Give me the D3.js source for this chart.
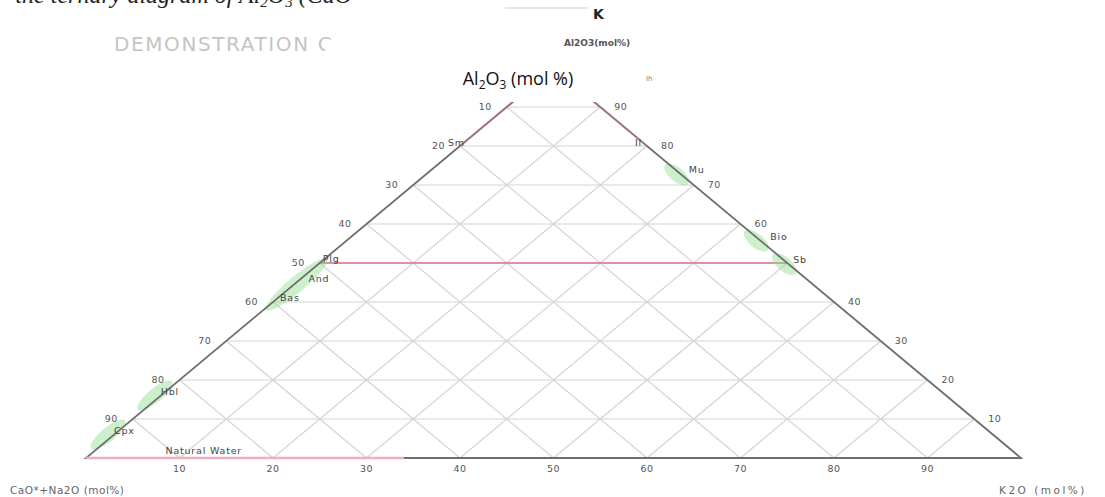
<!DOCTYPE html>
<html>
  <head>
    <meta charset="utf-8" />
    <script src="https://d3js.org/d3.v7.min.js"></script>
    <title>Ternary A-CN-K</title>
    <style>
      body { margin: 0; background: #fff; }
      svg text { font-family: "DejaVu Sans", sans-serif; }
      .grid { stroke: #d4d4d4; stroke-width: 1.2px; fill: none; }
      .edge { stroke: #6e6e6e; stroke-width: 1.8px; fill: none; }
      .tick { font-size: 9.5px; fill: #555; letter-spacing: 0.5px; }
      .mineral { font-size: 9.5px; fill: #444; letter-spacing: 0.8px; }
      .blob { fill: #8fdc8f; opacity: 0.45; }
      .join { stroke: #e0708a; stroke-width: 1.4px; fill: none; }
    </style>
  </head>
  <body>

    <svg id="chart" width="1105" height="497"></svg>

    <script>

      // tick values on every side
      var ticks = [10, 20, 30, 40, 50, 60, 70, 80, 90];

      // minerals on the left (CaO*+Na2O) side: Al2O3 %
      var leftNames = ["Plg", "And", "Bas", "Hbl", "Cpx"];
      var leftA = [50, 45, 40, 16, 6];

      // minerals on the right (K2O) side: Al2O3 %
      var rightNames = ["Mu", "Bio", "Sb"];
      var rightA = [73, 56, 50];

      // minerals near the top
      var topNames = ["Sm", "Il"];
      var topA = [80, 80];
      var topK = [0, 20];

      // natural water stays on the CN-K join, K2O from 0 to this value
      var waterK = [0, 34];

      var svg = d3.select("#chart");

      var xScale = d3.scaleLinear().domain([0, 100]).range([86, 1021]);
      var yScale = d3.scaleLinear().domain([0, 100]).range([458, 68]);

      // a = Al2O3, k = K2O ; CaO+Na2O is the rest
      function pt(a, k) {
        return [xScale(k + a / 2), yScale(a)];
      }

      var edgeAngle = Math.atan2(yScale(0) - yScale(100), xScale(50) - xScale(0)) * 180 / Math.PI;

      // cropped document text at the top
      svg.append("text")
        .attr("x", 352)
        .attr("y", 3)
        .attr("text-anchor", "end")
        .style("font-family", "'Liberation Serif', serif")
        .style("font-style", "italic")
        .style("font-size", "24px")
        .attr("fill", "#222")
        .html("the ternary diagram of Al<tspan font-size='15' dy='4'>2</tspan><tspan dy='-4'>O</tspan><tspan font-size='15' dy='4'>3</tspan><tspan dy='-4'> (CaO</tspan>");

      svg.append("line")
        .attr("x1", 505).attr("x2", 588)
        .attr("y1", 8).attr("y2", 8)
        .attr("stroke", "#ccc");

      svg.append("text")
        .attr("x", 593)
        .attr("y", 19)
        .style("font-size", "14px")
        .style("font-weight", "bold")
        .attr("fill", "#222")
        .text("K");

      svg.append("text")
        .attr("x", 114)
        .attr("y", 51)
        .style("font-size", "20px")
        .style("letter-spacing", "1.6px")
        .attr("fill", "#c4c4c4")
        .text("DEMONSTRATION C");

      svg.append("text")
        .attr("x", 564)
        .attr("y", 46)
        .style("font-size", "9px")
        .style("font-weight", "bold")
        .attr("fill", "#555")
        .text("Al2O3(mol%)");

      // grid
      var grid = svg.append("g");
      ticks.forEach(function(v) {
        [[pt(v, 0), pt(v, 100 - v)],
         [pt(0, v), pt(100 - v, v)],
         [pt(0, 100 - v), pt(100 - v, 0)]].forEach(function(seg) {
          grid.append("line")
            .attr("class", "grid")
            .attr("x1", seg[0][0]).attr("y1", seg[0][1])
            .attr("x2", seg[1][0]).attr("y2", seg[1][1]);
        });
      });

      // feldspar join
      svg.append("line")
        .attr("class", "join")
        .attr("x1", pt(50, 0)[0]).attr("y1", pt(50, 0)[1])
        .attr("x2", pt(50, 50)[0]).attr("y2", pt(50, 50)[1]);

      // green fields
      var blobs = svg.append("g");
      blobs.append("ellipse")
        .attr("class", "blob")
        .attr("transform", "translate(" + pt(45, 0)[0] + "," + (pt(45, 0)[1] + 2) + ") rotate(" + (-edgeAngle) + ")")
        .attr("rx", 40).attr("ry", 8);
      [leftA[3], leftA[4]].forEach(function(a) {
        blobs.append("ellipse")
          .attr("class", "blob")
          .attr("transform", "translate(" + (pt(a, 0)[0] - 6) + "," + pt(a, 0)[1] + ") rotate(" + (-edgeAngle) + ")")
          .attr("rx", 22).attr("ry", 7);
      });
      rightA.forEach(function(a) {
        var p = pt(a, 100 - a);
        blobs.append("ellipse")
          .attr("class", "blob")
          .attr("transform", "translate(" + (p[0] - 3) + "," + (p[1] + 1) + ") rotate(" + edgeAngle + ")")
          .attr("rx", 15).attr("ry", 7);
      });

      // triangle edges
      var corners = [pt(0, 0), pt(0, 100), pt(100, 0)];
      svg.append("path")
        .attr("class", "edge")
        .attr("d", d3.line()(corners) + "Z");

      // natural water
      svg.append("line")
        .attr("stroke", "#eeb0bf")
        .attr("stroke-width", 2.4)
        .attr("x1", pt(0, waterK[0])[0]).attr("y1", pt(0, waterK[0])[1])
        .attr("x2", pt(0, waterK[1])[0]).attr("y2", pt(0, waterK[1])[1]);

      // pink tint along the upper edges
      [[pt(80, 0), pt(100, 0)], [pt(80, 20), pt(100, 0)]].forEach(function(seg) {
        svg.append("line")
          .attr("stroke", "#e07a90")
          .attr("stroke-opacity", 0.45)
          .attr("stroke-width", 2)
          .attr("x1", seg[0][0]).attr("y1", seg[0][1])
          .attr("x2", seg[1][0]).attr("y2", seg[1][1]);
      });

      // tick labels
      var tickG = svg.append("g");
      ticks.forEach(function(v) {
        var b = pt(0, v);
        tickG.append("text").attr("class", "tick")
          .attr("x", b[0]).attr("y", b[1] + 14)
          .attr("text-anchor", "middle").text(v);
        var l = pt(v, 0);
        tickG.append("text").attr("class", "tick")
          .attr("x", l[0] - 15).attr("y", l[1] + 3)
          .attr("text-anchor", "end").text(100 - v);
        var r = pt(v, 100 - v);
        if (v !== 50) {
          tickG.append("text").attr("class", "tick")
            .attr("x", r[0] + 14).attr("y", r[1] + 3)
            .text(v);
        }
      });

      // mineral labels
      var leftDx = [3, 12, 7, 0, 0];
      leftNames.forEach(function(n, i) {
        var p = pt(leftA[i], 0);
        svg.append("text").attr("class", "mineral")
          .attr("x", p[0] + leftDx[i]).attr("y", p[1] - 1)
          .text(n);
      });
      var rightDx = [9, 11, 6];
      rightNames.forEach(function(n, i) {
        var p = pt(rightA[i], 100 - rightA[i]);
        svg.append("text").attr("class", "mineral")
          .attr("x", p[0] + rightDx[i]).attr("y", p[1])
          .text(n);
      });
      topNames.forEach(function(n, i) {
        var p = pt(topA[i], topK[i]);
        svg.append("text").attr("class", "mineral")
          .attr("x", p[0] - 12).attr("y", p[1])
          .text(n);
      });

      svg.append("text").attr("class", "mineral")
        .attr("x", pt(0, 8.5)[0]).attr("y", pt(0, 0)[1] - 4)
        .text("Natural Water");

      // axis titles
      svg.append("text")
        .attr("x", 10).attr("y", 494)
        .style("font-size", "10.5px").style("letter-spacing", "0.5px").attr("fill", "#666")
        .text("CaO*+Na2O (mol%)");
      svg.append("text")
        .attr("x", 999).attr("y", 494)
        .style("font-size", "10.5px").style("letter-spacing", "2.5px").attr("fill", "#666")
        .text("K2O (mol%)");

      // white label box over the apex
      svg.append("rect")
        .attr("x", 325).attr("y", 47)
        .attr("width", 316).attr("height", 55)
        .attr("fill", "#fff");
      svg.append("text")
        .attr("x", 518).attr("y", 85)
        .attr("text-anchor", "middle")
        .style("font-family", "'Open Sans', sans-serif")
        .style("font-size", "18px")
        .attr("fill", "#111")
        .html("Al<tspan font-size='12' dy='4'>2</tspan><tspan dy='-4'>O</tspan><tspan font-size='12' dy='4'>3</tspan><tspan dy='-4'> (mol %)</tspan>");
      svg.append("text")
        .attr("x", 646).attr("y", 81)
        .style("font-size", "7px").attr("fill", "#888")
        .text("Ih");

    </script>

  </body>
</html>
